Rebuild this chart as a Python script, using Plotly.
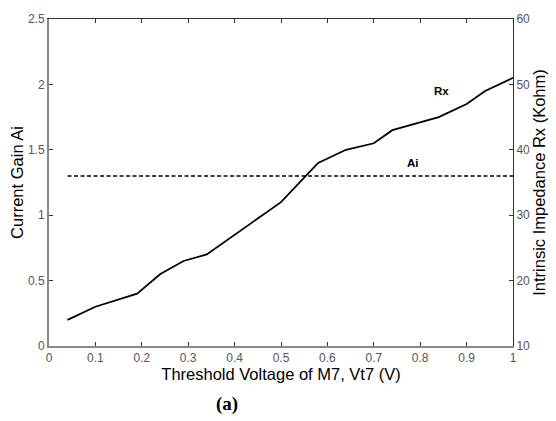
import plotly.graph_objects as go

# Data
vt7 = [0.04, 0.1, 0.19, 0.24, 0.29, 0.34, 0.5, 0.58, 0.64, 0.7, 0.74, 0.79, 0.84, 0.9, 0.94, 1.0]
rx_kohm = [14, 16, 18, 21, 23, 24, 32, 38, 40, 41, 43, 44, 45, 47, 49, 51]
ai_x = [0.04, 1.0]
ai_val = [1.3, 1.3]

x_ticks = [0, 0.1, 0.2, 0.3, 0.4, 0.5, 0.6, 0.7, 0.8, 0.9, 1]
x_ticklabels = ["0", "0.1", "0.2", "0.3", "0.4", "0.5", "0.6", "0.7", "0.8", "0.9", "1"]
y_ticks = [0, 0.5, 1, 1.5, 2, 2.5]
y_ticklabels = ["0", "0.5", "1", "1.5", "2", "2.5"]
y2_ticks = [10, 20, 30, 40, 50, 60]
y2_ticklabels = ["10", "20", "30", "40", "50", "60"]

GRAY = "#8a8a8a"
DARK = "#333333"
TICKFONT = dict(family="Arial, Liberation Sans, sans-serif", size=12, color="#555555")
TITLEFONT = dict(family="Arial, Liberation Sans, sans-serif", size=16.5, color="black")

fig = go.Figure()
fig.add_trace(go.Scatter(x=ai_x, y=ai_val, mode="lines",
                         line=dict(color="black", width=1.5, dash="4px,2.5px"),
                         xaxis="x", yaxis="y", showlegend=False))
fig.add_trace(go.Scatter(x=vt7, y=rx_kohm, mode="lines",
                         line=dict(color="black", width=1.8),
                         xaxis="x", yaxis="y2", showlegend=False))
# invisible trace for top axis
fig.add_trace(go.Scatter(x=[0, 1], y=[0, 0], mode="lines", line=dict(width=0),
                         xaxis="x3", yaxis="y", showlegend=False, hoverinfo="skip",
                         opacity=0))

fig.update_layout(
    width=556, height=421,
    margin=dict(l=49, r=41, t=14, b=75),
    paper_bgcolor="white", plot_bgcolor="white",
    xaxis=dict(range=[0, 1], tickvals=x_ticks, ticktext=x_ticklabels,
               ticks="inside", ticklen=4, tickcolor=DARK, tickwidth=1,
               showline=True, linecolor=GRAY, linewidth=2, showgrid=False,
               zeroline=False, tickfont=TICKFONT,
               title=dict(text="Threshold Voltage of M7, Vt7 (V)", font=TITLEFONT, standoff=0)),
    xaxis3=dict(range=[0, 1], tickvals=x_ticks, overlaying="x", side="top",
                ticks="inside", ticklen=4, tickcolor=DARK, tickwidth=1,
                showline=True, linecolor=DARK, linewidth=1, showgrid=False,
                zeroline=False, showticklabels=False, anchor="y"),
    yaxis=dict(range=[0, 2.5], tickvals=y_ticks, ticktext=y_ticklabels,
               ticks="inside", ticklen=4, tickcolor=DARK, tickwidth=1,
               showline=True, linecolor=GRAY, linewidth=2, showgrid=False,
               zeroline=False, tickfont=TICKFONT,
               title=dict(text="Current Gain Ai", font=TITLEFONT, standoff=0)),
    yaxis2=dict(range=[10, 60], tickvals=y2_ticks, ticktext=y2_ticklabels,
                overlaying="y", side="right", anchor="x",
                ticks="inside", ticklen=4, tickcolor=DARK, tickwidth=1,
                showline=True, linecolor=DARK, linewidth=1, showgrid=False,
                zeroline=False, tickfont=TICKFONT,
                title=dict(text="Intrinsic Impedance Rx (Kohm)", font=TITLEFONT, standoff=2)),
    annotations=[
        dict(x=0.845, y=1.95, xref="x", yref="y", text="<b>Rx</b>", showarrow=False,
             font=dict(family="Arial, Liberation Sans, sans-serif", size=11.5, color="black")),
        dict(x=0.785, y=1.40, xref="x", yref="y", text="<b>Ai</b>", showarrow=False,
             font=dict(family="Arial, Liberation Sans, sans-serif", size=11.5, color="black")),
        dict(x=0.384, y=-0.178, xref="paper", yref="paper", yanchor="middle",
             text="<b>(a)</b>", showarrow=False,
             font=dict(family="Times New Roman, Liberation Serif, serif", size=19, color="black")),
    ],
)

fig.write_html("out.html")
